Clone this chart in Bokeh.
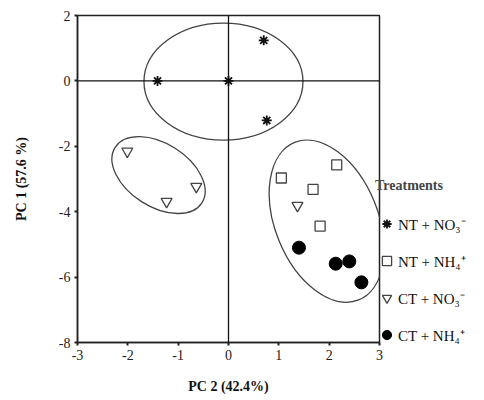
from bokeh.plotting import figure
from bokeh.models import Span, Legend, LegendItem, FixedTicker, ColumnDataSource
from bokeh.embed import file_html
from bokeh.resources import INLINE

# Data (PC2 on x, PC1 on y)
nt_no3_x = [-1.41, 0.0, 0.70, 0.76]
nt_no3_y = [0.0, 0.0, 1.24, -1.21]
nt_nh4_x = [1.05, 2.15, 1.68, 1.82]
nt_nh4_y = [-2.97, -2.57, -3.32, -4.44]
ct_no3_x = [-2.01, -0.64, -1.23, 1.37]
ct_no3_y = [-2.15, -3.23, -3.69, -3.81]
ct_nh4_x = [1.40, 2.13, 2.40, 2.64]
ct_nh4_y = [-5.10, -5.59, -5.52, -6.16]

cluster_x = [-0.10, -1.39, 1.95]
cluster_y = [-0.02, -2.88, -4.29]

x_ticks = [-3, -2, -1, 0, 1, 2, 3]
y_ticks = [-8, -6, -4, -2, 0, 2]

labels = ["NT + NO\u2083\u207b", "NT + NH\u2084\u207a", "CT + NO\u2083\u207b", "CT + NH\u2084\u207a"]

FONT = "Liberation Serif"

p = figure(width=476, height=392, x_range=(-3, 3), y_range=(-8, 2),
           frame_width=302, frame_height=327,
           min_border_left=77, min_border_top=15, min_border_right=97, min_border_bottom=50,
           output_backend="svg", toolbar_location=None)
p.grid.visible = False
p.outline_line_color = "#222222"
p.outline_line_width = 1.5
p.background_fill_color = "white"
p.border_fill_color = "white"

for ax in (p.xaxis[0], p.yaxis[0]):
    ax.axis_line_color = "#222222"
    ax.axis_line_width = 1.5
    ax.major_tick_line_color = "#222222"
    ax.major_tick_line_width = 2
    ax.major_tick_out = 3
    ax.major_tick_in = 0
    ax.minor_tick_line_color = None
    ax.major_label_text_font = FONT
    ax.major_label_text_font_size = "14px"
    ax.major_label_text_color = "#222222"
    ax.axis_label_text_font = FONT
    ax.axis_label_text_font_size = "14px"
    ax.axis_label_text_font_style = "bold"
    ax.axis_label_text_color = "#111111"

p.xaxis.ticker = FixedTicker(ticks=x_ticks)
p.yaxis.ticker = FixedTicker(ticks=y_ticks)
p.xaxis.major_label_overrides = {t: str(t) for t in x_ticks}
p.yaxis.major_label_overrides = {t: str(t) for t in y_ticks}
p.xaxis.axis_label = "PC 2 (42.4%)"
p.yaxis.axis_label = "PC 1 (57.6 %)"
p.xaxis.major_label_standoff = 4
p.yaxis.major_label_standoff = 4
p.xaxis.axis_label_standoff = 16
p.yaxis.axis_label_standoff = 27

p.add_layout(Span(location=0, dimension="width", line_color="#111111", line_width=1.3))
p.add_layout(Span(location=0, dimension="height", line_color="#111111", line_width=1.3))

# cluster ellipses (sizes in screen pixels)
ell = ColumnDataSource(dict(x=cluster_x, y=cluster_y,
                            w=[159, 103, 170], h=[117, 63, 103], a=[0.0, -0.57, -1.185]))
p.ellipse(x="x", y="y", width="w", height="h", angle="a", source=ell,
          width_units="screen", height_units="screen",
          fill_color=None, line_color="#444444", line_width=1.3)

r1 = p.scatter(nt_no3_x, nt_no3_y, marker="asterisk", size=10, line_color="#111111", line_width=1.8)
r2 = p.scatter(nt_nh4_x, nt_nh4_y, marker="square", size=10, fill_color="white",
               line_color="#444444", line_width=1.3)
r3 = p.scatter(ct_no3_x, ct_no3_y, marker="inverted_triangle", size=11, fill_color="white",
               line_color="#444444", line_width=1.3)
r4 = p.scatter(ct_nh4_x, ct_nh4_y, marker="circle", size=13, fill_color="black", line_color="black")

legend = Legend(items=[LegendItem(label=labels[i], renderers=[r]) for i, r in enumerate([r1, r2, r3, r4])],
                location=(-4, -4), title="Treatments",
                title_text_font=FONT, title_text_font_style="bold", title_text_font_size="14px",
                title_standoff=18,
                label_text_font=FONT, label_text_font_size="15px", label_text_color="#111111",
                glyph_width=23, glyph_height=23, label_height=23, label_standoff=0,
                spacing=14, padding=0, margin=0,
                border_line_alpha=0, background_fill_alpha=0)
p.add_layout(legend, "right")

open("out.html", "w").write(file_html(p, INLINE))
